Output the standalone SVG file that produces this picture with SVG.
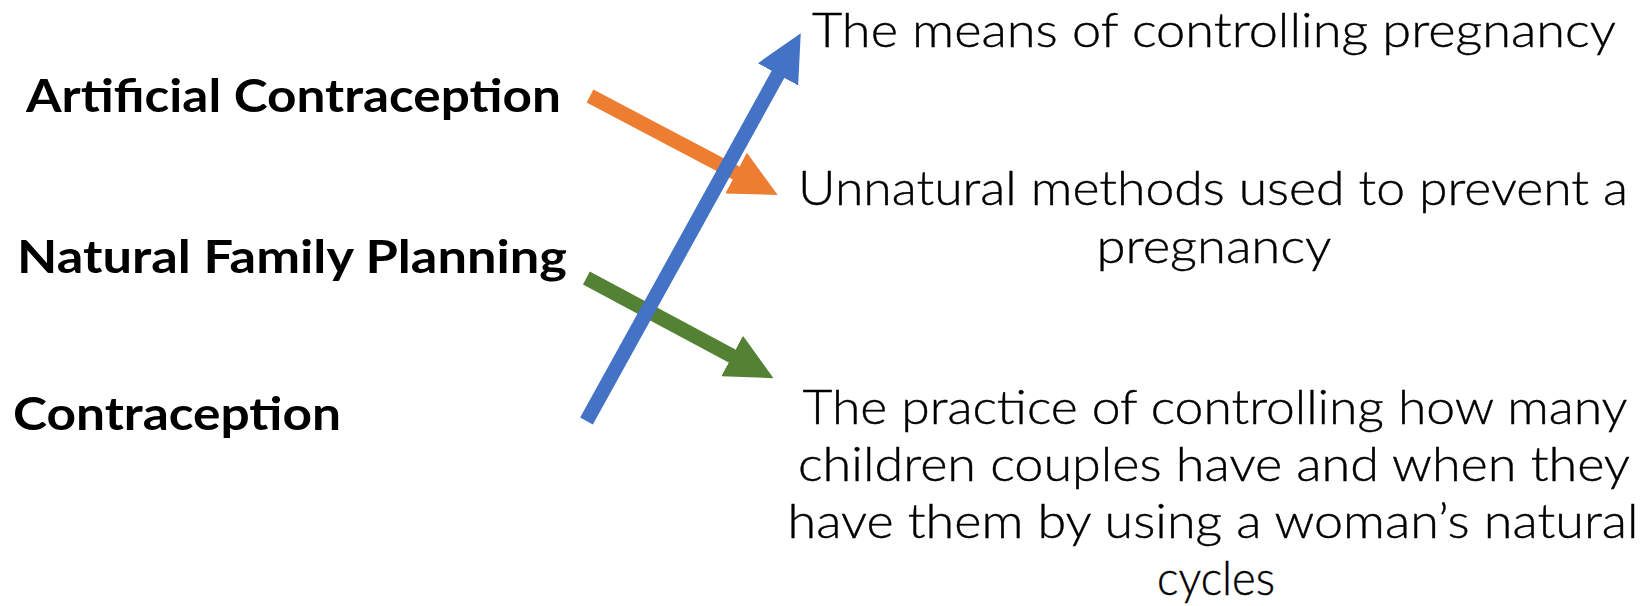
<svg xmlns="http://www.w3.org/2000/svg" width="1652" height="606" viewBox="0 0 1652 606">
<style>
.term{font-family:Lato,"Open Sans","Liberation Sans",sans-serif;font-weight:700;font-size:46px;fill:#000}
.def{font-family:Lato,"Open Sans","Liberation Sans",sans-serif;font-weight:300;font-size:48px;fill:#000;text-anchor:middle;stroke:#000;stroke-width:0.4}
.shaft{fill:none;stroke-width:14.5;stroke-linecap:butt}
</style>
<defs>
<marker id="hOrange" markerUnits="userSpaceOnUse" markerWidth="47" markerHeight="46" viewBox="0 0 47 46" refX="1" refY="23" orient="auto"><path d="M0,0 L47,23 L0,46 Z" fill="#ED7D31"/></marker>
<marker id="hGreen" markerUnits="userSpaceOnUse" markerWidth="47" markerHeight="46" viewBox="0 0 47 46" refX="1" refY="23" orient="auto"><path d="M0,0 L47,23 L0,46 Z" fill="#548235"/></marker>
<marker id="hBlue" markerUnits="userSpaceOnUse" markerWidth="47" markerHeight="46" viewBox="0 0 47 46" refX="1" refY="23" orient="auto"><path d="M0,0 L47,23 L0,46 Z" fill="#4472C4"/></marker>
</defs>
<rect width="1652" height="606" fill="#fff"/>
<g id="node-artificial"><text class="term" x="26" y="111.7" textLength="535" lengthAdjust="spacingAndGlyphs">Artificial Contraception</text></g>
<g id="node-nfp"><text class="term" x="17" y="273.3" textLength="550" lengthAdjust="spacingAndGlyphs">Natural Family Planning</text></g>
<g id="node-contraception"><text class="term" x="13" y="430" textLength="328" lengthAdjust="spacingAndGlyphs">Contraception</text></g>
<g id="node-def-means"><text class="def" x="1214" y="47" textLength="804" lengthAdjust="spacingAndGlyphs">The means of controlling pregnancy</text></g>
<g id="node-def-unnatural">
<text class="def" x="1213" y="205" textLength="830" lengthAdjust="spacingAndGlyphs">Unnatural methods used to prevent a</text>
<text class="def" x="1214" y="263" textLength="235" lengthAdjust="spacingAndGlyphs">pregnancy</text>
</g>
<g id="node-def-practice">
<text class="def" x="1215" y="424" textLength="825" lengthAdjust="spacingAndGlyphs">The practice of controlling how many</text>
<text class="def" x="1214" y="481" textLength="832" lengthAdjust="spacingAndGlyphs">children couples have and when they</text>
<text class="def" x="1213" y="538" textLength="851" lengthAdjust="spacingAndGlyphs">have them by using a woman’s natural</text>
<text class="def" x="1216" y="595" textLength="118" lengthAdjust="spacingAndGlyphs">cycles</text>
</g>
<g id="connectors">
<path class="shaft" d="M590,96 L737,173.5" stroke="#ED7D31" marker-end="url(#hOrange)"/>
<path class="shaft" d="M586.4,278 L733,356.5" stroke="#548235" marker-end="url(#hGreen)"/>
<path class="shaft" d="M586.5,421 L778.5,73.5" stroke="#4472C4" marker-end="url(#hBlue)"/>
</g>
</svg>
